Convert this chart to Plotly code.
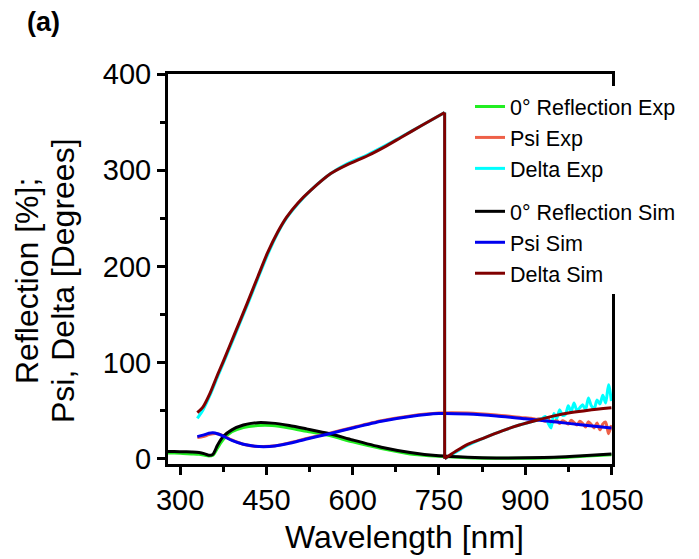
import plotly.graph_objects as go

# ---------------- data ----------------
refl_wl = [279, 290, 305, 320, 333, 343, 350, 357, 365, 375, 390, 410, 435, 460, 490, 520, 560, 600, 650, 700, 750, 800, 850, 900, 950, 1000, 1050]
refl_exp = [6, 6, 5.5, 5, 4.5, 3.5, 2.8, 3.5, 11, 20, 28, 32.5, 34.5, 34.5, 32, 28.5, 24, 17.5, 10.5, 5, 2.5, 1, 0.5, 0.5, 1, 2.5, 4]
refl_sim = [7.5, 7.5, 7.2, 7, 6.5, 5, 3.5, 4.5, 14, 23, 30, 35, 37.5, 37, 34.5, 31, 26, 19.5, 12, 6.5, 3, 1.5, 0.8, 1, 1.5, 3, 5]

psi_sim_wl = [330, 340, 350, 357, 365, 375, 390, 410, 430, 445, 465, 490, 520, 560, 600, 650, 700, 750, 800, 850, 900, 950, 1000, 1050]
psi_sim = [23, 24.5, 26.5, 27, 26, 23.5, 19, 15, 13, 12.5, 13.2, 16, 20.5, 26, 32, 39, 44, 47, 46.5, 44.5, 41.5, 38.5, 35, 32]

psi_exp_wl = [330, 340, 350, 357, 365, 375, 390, 410, 430, 445, 465, 490, 520, 560, 600, 650, 700, 750, 800, 850, 900,
              910, 915, 920, 925, 930, 935, 940, 945, 950, 955, 960, 965, 970, 975, 980, 985, 990, 995, 1000,
              1005, 1010, 1015, 1020, 1025, 1030, 1035, 1040, 1045, 1050]
psi_exp = [22, 23, 25, 26, 26, 24, 19.5, 15, 13, 12.8, 13.5, 16.5, 21, 26.5, 32.5, 39.5, 44.5, 47.5, 47.5, 45.5, 42.5,
           42, 41.5, 41, 41.5, 40, 39, 41.5, 37, 38.5, 40, 36.5, 39.5, 38, 36, 40, 37.5, 35, 39, 36.5,
           33, 38.5, 35.5, 32, 37, 30, 36, 38, 26, 35]

delta_sim_wl = [330, 340, 352, 365, 375, 395, 417, 435, 452, 470, 485, 505, 527, 562, 590, 626, 655, 684, 720, 760,
                760, 780, 800, 830, 860, 890, 920, 950, 980, 1010, 1050]
delta_sim = [48, 54, 68, 87, 101, 130, 162, 189, 214, 236, 251, 266, 279, 296.5, 305.5, 315, 324, 334, 346.5, 360,
             0, 8, 15, 22, 29, 35, 40, 44.5, 48, 50.5, 53]

delta_exp_wl = [330, 340, 352, 365, 375, 395, 417, 435, 452, 470, 485, 505, 527, 562, 590, 626, 655, 684, 720, 760,
                760, 780, 800, 830, 860, 890, 920, 930, 935, 940, 945, 950, 955, 960, 965, 970, 975, 980, 985, 990,
                995, 1000, 1005, 1010, 1015, 1020, 1025, 1030, 1035, 1040, 1045, 1050]
delta_exp = [42, 51, 66, 85, 99, 128, 160, 187, 212, 235, 250, 265, 279, 296.5, 306.5, 316, 325, 334.5, 346.5, 360,
             0, 7, 14, 22, 29, 35, 40, 42, 44, 37, 32, 47, 42, 51, 45, 46, 55, 49, 58, 50,
             53, 56, 51, 63, 55, 52, 61, 57, 66, 58, 77, 60]

x_ticks = [300, 450, 600, 750, 900, 1050]
y_ticks = [0, 100, 200, 300, 400]

FONT = "Liberation Sans, Arial, sans-serif"

fig = go.Figure()


def add_series(wl, vals, name, color, group, width=3):
    # split at a vertical jump (repeated wavelength)
    split = None
    for i in range(len(wl) - 1):
        if wl[i] == wl[i + 1]:
            split = i
    pieces = []
    if split is None:
        pieces.append((wl, vals, "spline"))
    else:
        pieces.append((wl[:split + 1], vals[:split + 1], "spline"))
        pieces.append((wl[split:split + 2], vals[split:split + 2], "linear"))
        pieces.append((wl[split + 1:], vals[split + 1:], "spline"))
    for k, (xx, yy, shape) in enumerate(pieces):
        fig.add_trace(go.Scatter(
            x=xx, y=yy, mode="lines", name=name,
            line=dict(color=color, width=width, shape=shape, smoothing=0.7),
            legendgroup=group, showlegend=(k == 0),
        ))


add_series(refl_wl, refl_exp, "0° Reflection Exp", "#22ee22", "exp")
add_series(psi_exp_wl, psi_exp, "Psi Exp", "#ee6048", "exp")
add_series(delta_exp_wl, delta_exp, "Delta Exp", "#00ffff", "exp")
add_series(refl_wl, refl_sim, "0° Reflection Sim", "#000000", "sim")
add_series(psi_sim_wl, psi_sim, "Psi Sim", "#0000ee", "sim")
add_series(delta_sim_wl, delta_sim, "Delta Sim", "#800000", "sim")

axis_common = dict(
    showline=True, linecolor="black", linewidth=3, mirror=True,
    ticks="outside", ticklen=8, tickwidth=3, tickcolor="black",
    showgrid=False, zeroline=False,
    tickfont=dict(family=FONT, size=29, color="black"),
)

fig.update_xaxes(
    range=[279, 1051], tickvals=x_ticks,
    minor=dict(ticks="outside", ticklen=5, tickwidth=3, tickcolor="black", dtick=75, tick0=300, showgrid=False),
    **axis_common,
)
fig.update_yaxes(
    range=[-5.5, 400], tickvals=y_ticks,
    minor=dict(ticks="outside", ticklen=5, tickwidth=3, tickcolor="black", dtick=50, tick0=0, showgrid=False),
    **axis_common,
)

# page body has an 8px margin; figure is sized so that it ends at the window edge
W, H = 691, 551
L, R, T, B = 160, 87, 66, 95
PW, PH = W - L - R, H - T - B


def px_x(x):
    return (x - L) / PW


def px_y(y):
    return 1 - (y - T) / PH


fig.update_layout(
    width=W, height=H,
    margin=dict(l=L, r=R, t=T, b=B, autoexpand=False),
    paper_bgcolor="white", plot_bgcolor="white",
    font=dict(family=FONT, color="black"),
    showlegend=True,
    legend=dict(
        x=px_x(462), y=px_y(78), xanchor="left", yanchor="top",
        bgcolor="white", borderwidth=0,
        font=dict(family=FONT, size=21.5, color="black"),
        tracegroupgap=12, itemwidth=30,
    ),
    annotations=[
        dict(text="<b>(a)</b>", x=px_x(17), y=px_y(14), xref="paper", yref="paper", showarrow=False,
             font=dict(family=FONT, size=27, color="black"), xanchor="left", yanchor="middle"),
        dict(text="Wavelength [nm]", x=px_x(396), y=px_y(529), xref="paper", yref="paper", showarrow=False,
             font=dict(family=FONT, size=32, color="black"), xanchor="center", yanchor="middle"),
        dict(text="Reflection [%];", x=px_x(19), y=px_y(273), xref="paper", yref="paper",
             showarrow=False, textangle=-90,
             font=dict(family=FONT, size=32, color="black"), xanchor="center", yanchor="middle"),
        dict(text="Psi, Delta [Degrees]", x=px_x(55), y=px_y(273), xref="paper", yref="paper",
             showarrow=False, textangle=-90,
             font=dict(family=FONT, size=32, color="black"), xanchor="center", yanchor="middle"),
    ],
)

fig.write_html("out.html")
